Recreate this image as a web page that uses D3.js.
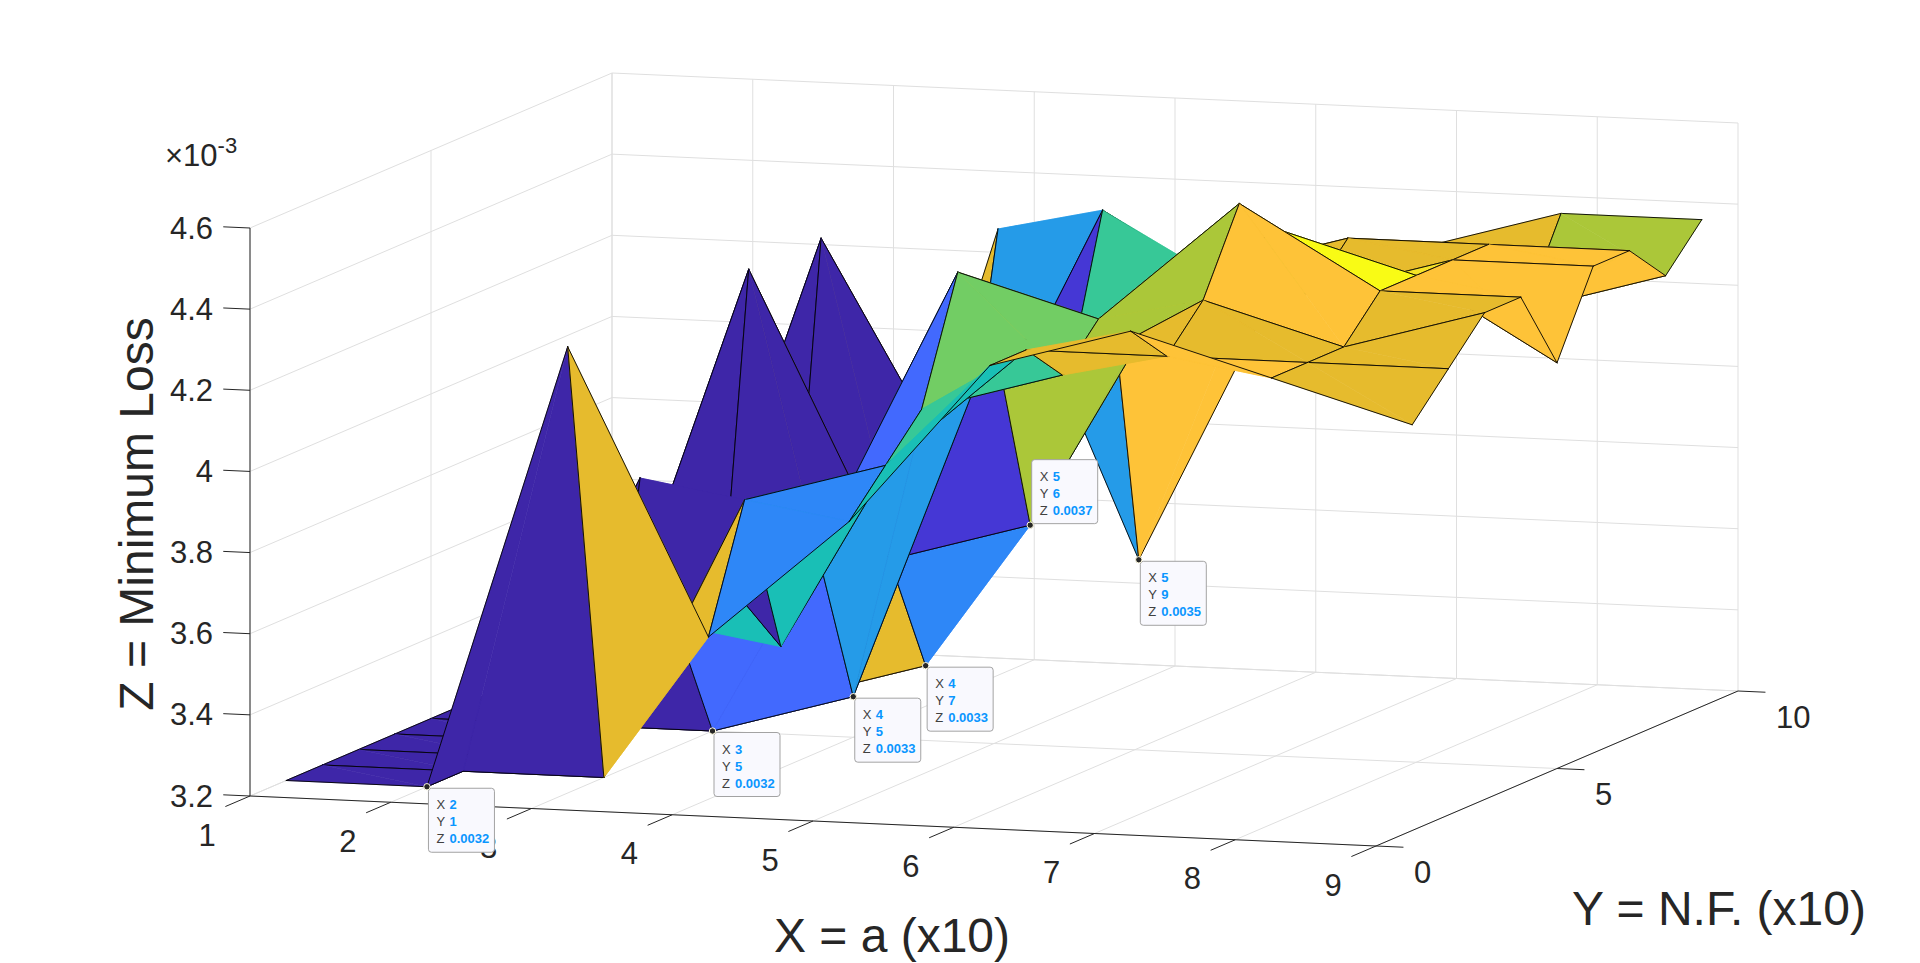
<!doctype html>
<html>
<head>
<meta charset="utf-8">
<title>Minimum Loss surface</title>
<style>
body {
  margin: 0;
  background-color: #ffffff;
}
svg text {
  font-family: "Liberation Sans", Arial, Helvetica, sans-serif;
  fill: #262626;
}
.grid line, .grid path {
  stroke: #dfdfdf;
  stroke-width: 1;
  fill: none;
}
.axis path {
  stroke: #262626;
  stroke-width: 1;
  fill: none;
}
.tick-label {
  font-size: 31px;
}
.axis-title {
  font-size: 48px;
}
.tip-label {
  font-size: 13px;
  fill: #404040;
}
.tip-value {
  font-size: 13px;
  font-weight: bold;
  fill: #0a96ff;
}
</style>
</head>
<body>
<svg id="chart" width="1920" height="963"></svg>
<script src="https://cdn.jsdelivr.net/npm/d3@7"></script>
<script>

// grid of the surface
var xValues = [1, 2, 3, 4, 5, 6, 7, 8, 9];
var yValues = [1, 2, 3, 4, 5, 6, 7, 8, 9];

// Z = minimum loss (x10^-3), one row per X value, columns follow yValues
var lossRows = [
  [3.2, 3.2, 3.2, 3.2, 3.2, 3.2, 3.2, 3.2, 3.2],
  [3.2, 3.2, 3.2, 3.2, 3.2, 3.3, 3.2, 3.3, 3.2],
  [4.3, 3.2, 3.9, 3.5, 3.2, 4.3, 3.2, 4.3, 3.2],
  [3.6, 3.9, 3.5, 3.7, 3.3, 3.6, 3.3, 3.7, 4.3],
  [3.9, 4.0, 4.1, 4.4, 4.2, 3.7, 4.0, 4.4, 3.5],
  [4.3, 4.3, 4.2, 4.3, 4.2, 4.3, 4.3, 4.2, 4.2],
  [4.4, 4.3, 4.4, 4.6, 4.5, 4.3, 4.4, 4.3, 4.3],
  [4.3, 4.3, 4.3, 4.4, 4.4, 4.4, 4.4, 4.2, 4.4],
  [4.2, 4.3, 4.4, 4.4, 4.2, 4.4, 4.4, 4.3, 4.4]
];

// axis ticks
var xTicks = [1, 2, 3, 4, 5, 6, 7, 8, 9];
var yTicks = [0, 5, 10];
var zTicks = [3.2, 3.4, 3.6, 3.8, 4, 4.2, 4.4, 4.6];
var xTickLabels = ["1", "2", "3", "4", "5", "6", "7", "8", "9"];
var yTickLabels = ["0", "5", "10"];
var zTickLabels = ["3.2", "3.4", "3.6", "3.8", "4", "4.2", "4.4", "4.6"];

// data tips (grid points picked on the surface)
var tipX = [2, 3, 4, 4, 5, 5];
var tipY = [1, 5, 5, 7, 6, 9];

// parula, 64 colours
var parula = [
[0.2422,0.1504,0.6603],[0.2504,0.1650,0.7076],[0.2578,0.1818,0.7511],[0.2647,0.1978,0.7952],
[0.2706,0.2147,0.8364],[0.2751,0.2342,0.8710],[0.2783,0.2559,0.8991],[0.2803,0.2782,0.9221],
[0.2813,0.3006,0.9414],[0.2810,0.3228,0.9579],[0.2795,0.3447,0.9717],[0.2760,0.3667,0.9829],
[0.2699,0.3892,0.9906],[0.2602,0.4123,0.9952],[0.2440,0.4358,0.9988],[0.2206,0.4603,0.9973],
[0.1963,0.4847,0.9892],[0.1834,0.5074,0.9798],[0.1786,0.5289,0.9682],[0.1764,0.5499,0.9520],
[0.1687,0.5703,0.9359],[0.1540,0.5902,0.9218],[0.1460,0.6091,0.9079],[0.1380,0.6276,0.8973],
[0.1248,0.6459,0.8883],[0.1113,0.6635,0.8763],[0.0952,0.6798,0.8598],[0.0689,0.6948,0.8394],
[0.0297,0.7082,0.8163],[0.0036,0.7203,0.7917],[0.0067,0.7312,0.7660],[0.0433,0.7411,0.7394],
[0.0964,0.7500,0.7120],[0.1408,0.7584,0.6842],[0.1717,0.7670,0.6554],[0.1938,0.7758,0.6251],
[0.2161,0.7843,0.5923],[0.2470,0.7918,0.5567],[0.2906,0.7973,0.5188],[0.3406,0.8008,0.4789],
[0.3909,0.8029,0.4354],[0.4456,0.8024,0.3909],[0.5044,0.7993,0.3480],[0.5616,0.7942,0.3045],
[0.6174,0.7876,0.2612],[0.6720,0.7793,0.2227],[0.7242,0.7698,0.1910],[0.7738,0.7598,0.1646],
[0.8203,0.7498,0.1535],[0.8634,0.7406,0.1596],[0.9035,0.7330,0.1774],[0.9393,0.7288,0.2100],
[0.9728,0.7298,0.2394],[0.9956,0.7434,0.2371],[0.9970,0.7659,0.2199],[0.9952,0.7893,0.2028],
[0.9892,0.8136,0.1885],[0.9786,0.8386,0.1766],[0.9676,0.8639,0.1643],[0.9610,0.8890,0.1537],
[0.9597,0.9135,0.1423],[0.9628,0.9373,0.1265],[0.9691,0.9606,0.1064],[0.9769,0.9839,0.0805]];

// ---- 3d box (orthographic, like the matlab view) ----
var zMin = 3.2, zMax = 4.6;
var origin = [250, 796];          // corner x=1, y=0, z=zMin
var xDir = [1126, 50];            // screen vector for the full x range
var yDir = [362, -155];           // full y range
var zDir = [0, -568];             // full z range

var xn = d3.scaleLinear().domain([1, 9]).range([0, 1]);
var yn = d3.scaleLinear().domain([0, 10]).range([0, 1]);
var zn = d3.scaleLinear().domain([zMin, zMax]).range([0, 1]);

function project(x, y, z) {
  var u = xn(x), v = yn(y), w = zn(z);
  return [origin[0] + u * xDir[0] + v * yDir[0] + w * zDir[0],
          origin[1] + u * xDir[1] + v * yDir[1] + w * zDir[1]];
}
// distance from the viewer (bigger = further away)
function depth(x, y, z) {
  return -0.303 * xn(x) + 0.943 * yn(y) - 0.0668 * zn(z);
}

// colour of a face, from its first vertex (matlab 'flat' faces)
var allZ = d3.merge(lossRows);
var cRange = d3.extent(allZ);
var cIndex = d3.scaleLinear().domain(cRange).range([0, parula.length]);
function faceColor(z) {
  var k = Math.floor(cIndex(z) + 1e-9);
  k = Math.max(0, Math.min(parula.length - 1, k));
  var c = parula[k];
  return d3.rgb(c[0] * 255, c[1] * 255, c[2] * 255).formatHex();
}

var svg = d3.select("#chart");

function seg(a, b) {
  var p = project(a[0], a[1], a[2]), q = project(b[0], b[1], b[2]);
  return "M" + p[0] + "," + p[1] + "L" + q[0] + "," + q[1];
}

// ---- grid on the floor and the two back walls ----
var gGrid = svg.append("g").attr("class", "grid");
var gridSegs = [];
xTicks.forEach(function(x) {
  gridSegs.push([[x, 0, zMin], [x, 10, zMin]]);
  gridSegs.push([[x, 10, zMin], [x, 10, zMax]]);
});
yTicks.forEach(function(y) {
  gridSegs.push([[1, y, zMin], [9, y, zMin]]);
  gridSegs.push([[1, y, zMin], [1, y, zMax]]);
});
zTicks.forEach(function(z) {
  gridSegs.push([[1, 0, z], [1, 10, z]]);
  gridSegs.push([[1, 10, z], [9, 10, z]]);
});
gGrid.selectAll("path").data(gridSegs).enter().append("path")
  .attr("d", function(d) { return seg(d[0], d[1]); });

// ---- axes ----
var gAxis = svg.append("g").attr("class", "axis");
var axisSegs = [
  [[1, 0, zMin], [9, 0, zMin]],
  [[9, 0, zMin], [9, 10, zMin]],
  [[1, 0, zMin], [1, 0, zMax]]
];
xTicks.forEach(function(x) { axisSegs.push([[x, 0, zMin], [x, -0.68, zMin]]); });
yTicks.forEach(function(y) { axisSegs.push([[9, y, zMin], [9.195, y, zMin]]); });
zTicks.forEach(function(z) { axisSegs.push([[1, 0, z], [0.81, 0, z]]); });
gAxis.selectAll("path").data(axisSegs).enter().append("path")
  .attr("d", function(d) { return seg(d[0], d[1]); });

// tick labels
var gLabels = svg.append("g");
xTicks.forEach(function(x, i) {
  var p = project(x, 0, zMin);
  gLabels.append("text").attr("class", "tick-label")
    .attr("x", p[0] - 43).attr("y", p[1] + 39)
    .attr("text-anchor", "middle").attr("dominant-baseline", "central")
    .text(xTickLabels[i]);
});
yTicks.forEach(function(y, i) {
  var p = project(9, y, zMin);
  gLabels.append("text").attr("class", "tick-label")
    .attr("x", p[0] + 38).attr("y", p[1] + 26)
    .attr("text-anchor", "start").attr("dominant-baseline", "central")
    .text(yTickLabels[i]);
});
zTicks.forEach(function(z, i) {
  var p = project(1, 0, z);
  gLabels.append("text").attr("class", "tick-label")
    .attr("x", p[0] - 37).attr("y", p[1])
    .attr("text-anchor", "end").attr("dominant-baseline", "central")
    .text(zTickLabels[i]);
});

// exponent
var expo = gLabels.append("text").attr("class", "tick-label")
  .attr("x", 165).attr("y", 166);
expo.append("tspan").text("\u00d710");
expo.append("tspan").attr("dy", -13).style("font-size", "22px").text("-3");

// axis titles
gLabels.append("text").attr("class", "axis-title")
  .attr("x", 892).attr("y", 952).attr("text-anchor", "middle")
  .text("X = a (x10)");
gLabels.append("text").attr("class", "axis-title")
  .attr("x", 1719).attr("y", 925).attr("text-anchor", "middle")
  .text("Y = N.F. (x10)");
gLabels.append("text").attr("class", "axis-title")
  .attr("transform", "translate(153,514) rotate(-90)")
  .attr("text-anchor", "middle")
  .text("Z = Minimum Loss");

// ---- surface: each quad split in two triangles, drawn back to front ----
var tris = [];
for (var i = 0; i < xValues.length - 1; i++) {
  for (var j = 0; j < yValues.length - 1; j++) {
    var v1 = [xValues[i], yValues[j], lossRows[i][j]];
    var v2 = [xValues[i + 1], yValues[j], lossRows[i + 1][j]];
    var v3 = [xValues[i + 1], yValues[j + 1], lossRows[i + 1][j + 1]];
    var v4 = [xValues[i], yValues[j + 1], lossRows[i][j + 1]];
    var col = faceColor(lossRows[i][j]);
    tris.push({ pts: [v1, v2, v4], edges: [[v1, v2], [v4, v1]], color: col });
    tris.push({ pts: [v2, v3, v4], edges: [[v2, v3], [v3, v4]], color: col });
  }
}
tris.forEach(function(t) {
  t.depth = d3.mean(t.pts, function(p) { return depth(p[0], p[1], p[2]); });
});
tris.sort(function(a, b) { return b.depth - a.depth; });

var gSurf = svg.append("g").attr("class", "surface");
var triLine = d3.line();
tris.forEach(function(t) {
  var pts = t.pts.map(function(p) { return project(p[0], p[1], p[2]); });
  gSurf.append("path")
    .attr("d", triLine(pts) + "Z")
    .attr("fill", t.color)
    .attr("stroke", t.color)
    .attr("stroke-width", 0.6)
    .attr("stroke-linejoin", "round");
  gSurf.append("path")
    .attr("d", t.edges.map(function(e) { return seg(e[0], e[1]); }).join(""))
    .attr("fill", "none")
    .attr("stroke", "#000")
    .attr("stroke-width", 0.9)
    .attr("stroke-linecap", "round");
});

// ---- data tips ----
var tipAbove = [false, false, false, false, true, false];   // box placement
var gTips = svg.append("g");
tipX.forEach(function(x, k) {
  var y = tipY[k];
  var z = lossRows[xValues.indexOf(x)][yValues.indexOf(y)];
  var p = project(x, y, z);
  var bx = p[0] + 1.5, by = tipAbove[k] ? p[1] - 65.5 : p[1] + 1.5;
  var g = gTips.append("g").attr("transform", "translate(" + bx + "," + by + ")");
  g.append("rect").attr("width", 66).attr("height", 64).attr("rx", 3)
    .attr("fill", "#f9f9fe").attr("stroke", "#a3a3a3").attr("stroke-width", 1);
  var rows = [["X", String(x)], ["Y", String(y)], ["Z", (z / 1000).toFixed(4)]];
  rows.forEach(function(r, n) {
    g.append("text").attr("class", "tip-label").attr("x", 8).attr("y", 16.5 + n * 17)
      .attr("dominant-baseline", "central").text(r[0]);
    g.append("text").attr("class", "tip-value").attr("x", 21).attr("y", 16.5 + n * 17)
      .attr("dominant-baseline", "central").text(r[1]);
  });
  gTips.append("circle").attr("cx", p[0]).attr("cy", p[1]).attr("r", 3.2)
    .attr("fill", "#262626").attr("stroke", "#fffbe0").attr("stroke-width", 1);
});

</script>
</body>
</html>
